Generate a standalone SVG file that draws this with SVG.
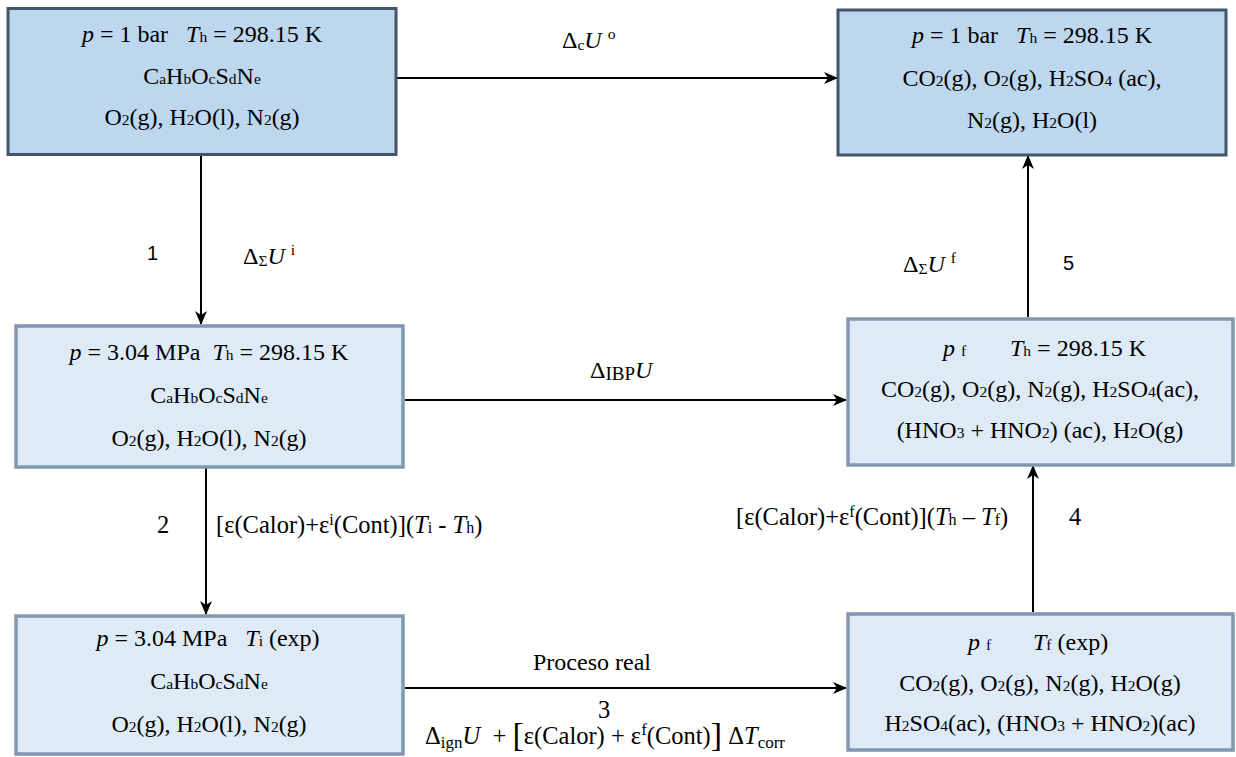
<svg xmlns="http://www.w3.org/2000/svg" width="1236" height="757" viewBox="0 0 1236 757">
<style>
text{font-family:"Liberation Serif","Times New Roman",serif;fill:#000;}
.bt{font-size:24px;}
.lb{font-size:24.5px;}
.sans{font-family:"Liberation Sans",Arial,sans-serif;font-size:20px;}
.i{font-style:italic;}
.s{font-size:15.5px;}
.ls{font-size:16px;}
.dark{fill:#BDD7EE;stroke:#44546A;stroke-width:3;}
.light{fill:#DEEBF7;stroke:#8497B0;stroke-width:3.5;}
.c{stroke:#000;stroke-width:2;fill:none;marker-end:url(#ah);}
</style>
<defs>
<marker id="ah" viewBox="0 0 14 12" refX="13" refY="6" markerWidth="14" markerHeight="12" markerUnits="userSpaceOnUse" orient="auto">
<path d="M0,0 L14,6 L0,12 L4,6 z" fill="#000"/>
</marker>
</defs>
<rect width="1236" height="757" fill="#fff"/>

<g id="connectors">
<line class="c" x1="397" y1="78" x2="837" y2="78"/>
<line class="c" x1="201" y1="156" x2="201" y2="324"/>
<line class="c" x1="405" y1="400" x2="846" y2="400"/>
<line class="c" x1="206" y1="468" x2="206" y2="614"/>
<line class="c" x1="405" y1="688" x2="846" y2="688"/>
<line class="c" x1="1033" y1="612" x2="1033" y2="466"/>
<line class="c" x1="1028" y1="317" x2="1028" y2="156"/>

<text class="bt" x="562" y="48" xml:space="preserve">Δ<tspan class="s" dy="2">c</tspan><tspan class="i" dy="-2">U</tspan> <tspan class="s" dy="-9">o</tspan></text>
<text class="sans" x="147" y="260">1</text>
<text class="bt" x="243" y="264" xml:space="preserve">Δ<tspan class="s" dy="2">Σ</tspan><tspan class="i" dy="-2">U</tspan> <tspan class="s" dy="-9">i</tspan></text>
<text class="bt" x="590" y="378" font-size="26">Δ<tspan font-size="19" dy="2">IBP</tspan><tspan class="i" dy="-2">U</tspan></text>
<text class="lb" x="157" y="533">2</text>
<text class="lb" x="216" y="533" xml:space="preserve">[ε(Calor)+ε<tspan class="ls" dy="-8">i</tspan><tspan dy="8">(Cont)](</tspan><tspan class="i">T</tspan><tspan class="ls">i</tspan> - <tspan class="i">T</tspan><tspan class="ls">h</tspan>)</text>
<text class="bt" x="903" y="272" xml:space="preserve">Δ<tspan class="s" dy="2">Σ</tspan><tspan class="i" dy="-2">U</tspan> <tspan class="s" dy="-9">f</tspan></text>
<text class="sans" x="1063" y="270">5</text>
<text class="lb" x="736" y="525" xml:space="preserve">[ε(Calor)+ε<tspan class="ls" dy="-8">f</tspan><tspan dy="8">(Cont)](</tspan><tspan class="i">T</tspan><tspan class="ls">h</tspan> – <tspan class="i">T</tspan><tspan class="ls">f</tspan>)</text>
<text class="lb" x="1069" y="525">4</text>
<text class="bt" x="592" y="670" font-size="22" text-anchor="middle">Proceso real</text>
<text class="lb" x="604" y="718" text-anchor="middle">3</text>
<text class="lb" x="425" y="744" font-size="26" xml:space="preserve">Δ<tspan font-size="17" dy="4">ign</tspan><tspan class="i" dy="-4">U</tspan>  + <tspan font-size="34" dy="2">[</tspan><tspan dy="-2">ε(Calor) + ε</tspan><tspan font-size="17" dy="-9">f</tspan><tspan dy="9">(Cont)</tspan><tspan font-size="34" dy="2">]</tspan><tspan dy="-2"> Δ</tspan><tspan class="i">T</tspan><tspan font-size="17" dy="4">corr</tspan></text>
</g>

<g id="node-initial">
<rect class="dark" x="8" y="8.5" width="388" height="146"/>
<text class="bt" x="202" y="42" text-anchor="middle" xml:space="preserve"><tspan class="i">p</tspan> = 1 bar   <tspan class="i">T</tspan><tspan class="s">h</tspan> = 298.15 K</text>
<text class="bt" x="202" y="84" text-anchor="middle">C<tspan class="s">a</tspan>H<tspan class="s">b</tspan>O<tspan class="s">c</tspan>S<tspan class="s">d</tspan>N<tspan class="s">e</tspan></text>
<text class="bt" x="202" y="125" text-anchor="middle">O<tspan class="s">2</tspan>(g), H<tspan class="s">2</tspan>O(l), N<tspan class="s">2</tspan>(g)</text>
</g>

<g id="node-final-std">
<rect class="dark" x="838" y="10" width="388" height="145"/>
<text class="bt" x="1032" y="43" text-anchor="middle" xml:space="preserve"><tspan class="i">p</tspan> = 1 bar   <tspan class="i">T</tspan><tspan class="s">h</tspan> = 298.15 K</text>
<text class="bt" x="1032" y="86" text-anchor="middle">CO<tspan class="s">2</tspan>(g), O<tspan class="s">2</tspan>(g), H<tspan class="s">2</tspan>SO<tspan class="s">4</tspan> (ac),</text>
<text class="bt" x="1032" y="128" text-anchor="middle">N<tspan class="s">2</tspan>(g), H<tspan class="s">2</tspan>O(l)</text>
</g>

<g id="node-ibp-initial">
<rect class="light" x="16" y="326" width="387" height="141"/>
<text class="bt" x="209" y="360" text-anchor="middle" xml:space="preserve"><tspan class="i">p</tspan> = 3.04 MPa  <tspan class="i">T</tspan><tspan class="s">h</tspan> = 298.15 K</text>
<text class="bt" x="209" y="403" text-anchor="middle">C<tspan class="s">a</tspan>H<tspan class="s">b</tspan>O<tspan class="s">c</tspan>S<tspan class="s">d</tspan>N<tspan class="s">e</tspan></text>
<text class="bt" x="209" y="446" text-anchor="middle">O<tspan class="s">2</tspan>(g), H<tspan class="s">2</tspan>O(l), N<tspan class="s">2</tspan>(g)</text>
</g>

<g id="node-ibp-final">
<rect class="light" x="848" y="319" width="385" height="146"/>
<text class="bt" x="943" y="356"><tspan class="i">p</tspan><tspan class="s" dx="6">f</tspan></text>
<text class="bt" x="1010" y="356"><tspan class="i">T</tspan><tspan class="s">h</tspan> = 298.15 K</text>
<text class="bt" x="1040" y="397" text-anchor="middle">CO<tspan class="s">2</tspan>(g), O<tspan class="s">2</tspan>(g), N<tspan class="s">2</tspan>(g), H<tspan class="s">2</tspan>SO<tspan class="s">4</tspan>(ac),</text>
<text class="bt" x="1040" y="438" text-anchor="middle">(HNO<tspan class="s">3</tspan> + HNO<tspan class="s">2</tspan>) (ac), H<tspan class="s">2</tspan>O(g)</text>
</g>

<g id="node-exp-initial">
<rect class="light" x="16" y="616" width="387" height="138"/>
<text class="bt" x="208" y="646" text-anchor="middle" xml:space="preserve"><tspan class="i">p</tspan> = 3.04 MPa   <tspan class="i">T</tspan><tspan class="s">i</tspan> (exp)</text>
<text class="bt" x="209" y="689" text-anchor="middle">C<tspan class="s">a</tspan>H<tspan class="s">b</tspan>O<tspan class="s">c</tspan>S<tspan class="s">d</tspan>N<tspan class="s">e</tspan></text>
<text class="bt" x="209" y="732" text-anchor="middle">O<tspan class="s">2</tspan>(g), H<tspan class="s">2</tspan>O(l), N<tspan class="s">2</tspan>(g)</text>
</g>

<g id="node-exp-final">
<rect class="light" x="848" y="614" width="385" height="136"/>
<text class="bt" x="968" y="650"><tspan class="i">p</tspan><tspan class="s" dx="6">f</tspan></text>
<text class="bt" x="1033" y="650"><tspan class="i">T</tspan><tspan class="s">f</tspan> (exp)</text>
<text class="bt" x="1040" y="691" text-anchor="middle">CO<tspan class="s">2</tspan>(g), O<tspan class="s">2</tspan>(g), N<tspan class="s">2</tspan>(g), H<tspan class="s">2</tspan>O(g)</text>
<text class="bt" x="1040" y="731" text-anchor="middle">H<tspan class="s">2</tspan>SO<tspan class="s">4</tspan>(ac), (HNO<tspan class="s">3</tspan> + HNO<tspan class="s">2</tspan>)(ac)</text>
</g>
</svg>
